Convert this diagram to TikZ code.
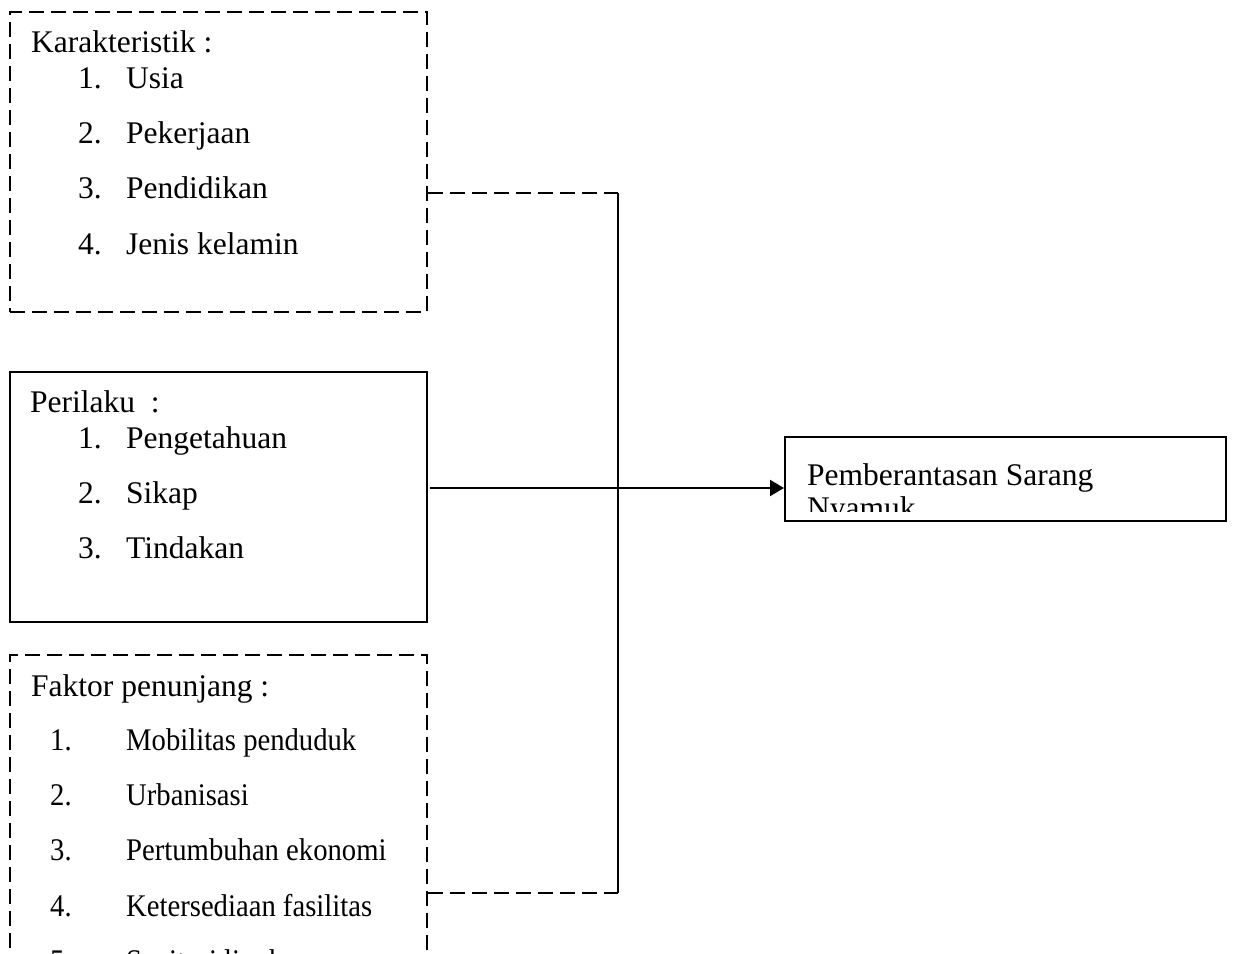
\documentclass[tikz,border=0pt]{standalone}
\usepackage{fontspec}
\usepackage{graphicx}
\setmainfont{Liberation Serif}
\usetikzlibrary{arrows.meta}
\tikzset{
  frame/.style={draw, line width=2pt, rectangle, inner sep=0pt},
  dashframe/.style={frame, dash pattern=on 15pt off 7pt},
  link/.style={line width=2pt},
  dashlink/.style={link, dash pattern=on 15pt off 7pt},
  txt/.style={anchor=base west, inner sep=0pt, font=\fontsize{31.5}{38}\selectfont},
}
\newcommand{\cond}[1]{\scalebox{0.91}[1]{#1}}
\begin{document}
\begin{tikzpicture}[x=1pt,y=-1pt]
\useasboundingbox (0,0) rectangle (1234,953);
\clip (0,0) rectangle (1234,953);
% boxes
\node[dashframe, minimum width=417pt, minimum height=300pt] (box1) at (218.5,162) {};
\node[frame, minimum width=417pt, minimum height=250pt] (box2) at (218.5,497) {};
\node[dashframe, minimum width=417pt, minimum height=340pt] (box3) at (218.5,825) {};
\node[frame, minimum width=441pt, minimum height=84pt] (box4) at (1005.5,479) {};
% box 1 text
\node[txt] (k0) at (31,52) {Karakteristik :};
\node[txt] (k1n) at (78,88) {1.};   \node[txt] (k1) at (126,88) {Usia};
\node[txt] (k2n) at (78,143) {2.};  \node[txt] (k2) at (126,143) {Pekerjaan};
\node[txt] (k3n) at (78,198) {3.};  \node[txt] (k3) at (126,198) {Pendidikan};
\node[txt] (k4n) at (78,254) {4.};  \node[txt] (k4) at (126,254) {Jenis kelamin};
% box 2 text
\node[txt] (p0) at (30,412) {Perilaku\ \ :};
\node[txt] (p1n) at (78,448) {1.};  \node[txt] (p1) at (126,448) {Pengetahuan};
\node[txt] (p2n) at (78,503) {2.};  \node[txt] (p2) at (126,503) {Sikap};
\node[txt] (p3n) at (78,558) {3.};  \node[txt] (p3) at (126,558) {Tindakan};
% box 3 text
\node[txt] (f0) at (31,696) {Faktor penunjang :};
\node[txt] (f1n) at (50,750) {\cond{1.}};  \node[txt] (f1) at (126,750) {\cond{Mobilitas penduduk}};
\node[txt] (f2n) at (50,805) {\cond{2.}};  \node[txt] (f2) at (126,805) {\cond{Urbanisasi}};
\node[txt] (f3n) at (50,860) {\cond{3.}};  \node[txt] (f3) at (126,860) {\cond{Pertumbuhan ekonomi}};
\node[txt] (f4n) at (50,916) {\cond{4.}};  \node[txt] (f4) at (126,916) {\cond{Ketersediaan fasilitas}};
\node[txt] (f5n) at (50,971) {\cond{5.}};  \node[txt] (f5) at (126,971) {\cond{Sanitasi lingkungan}};
% box 4 text (clipped inside)
\begin{scope}
  \clip (786,438) rectangle (1225,511.5);
  \node[txt] (t1) at (807,485) {Pemberantasan Sarang};
  \node[txt] (t2) at (807,518) {Nyamuk};
\end{scope}
% connectors
\coordinate (jt) at (618,193);
\coordinate (jb) at (618,893);
\coordinate (jm) at (618,488);
\draw[dashlink] (jt -| box1.east) -- (jt);
\draw[dashlink] (jb -| box3.east) -- (jb);
\draw[link] (jt) -- (jb);
\draw[link, -{Triangle[length=14pt,width=16pt]}] ([xshift=2pt]jm -| box2.east) -- (jm -| box4.west);
\end{tikzpicture}
\end{document}
